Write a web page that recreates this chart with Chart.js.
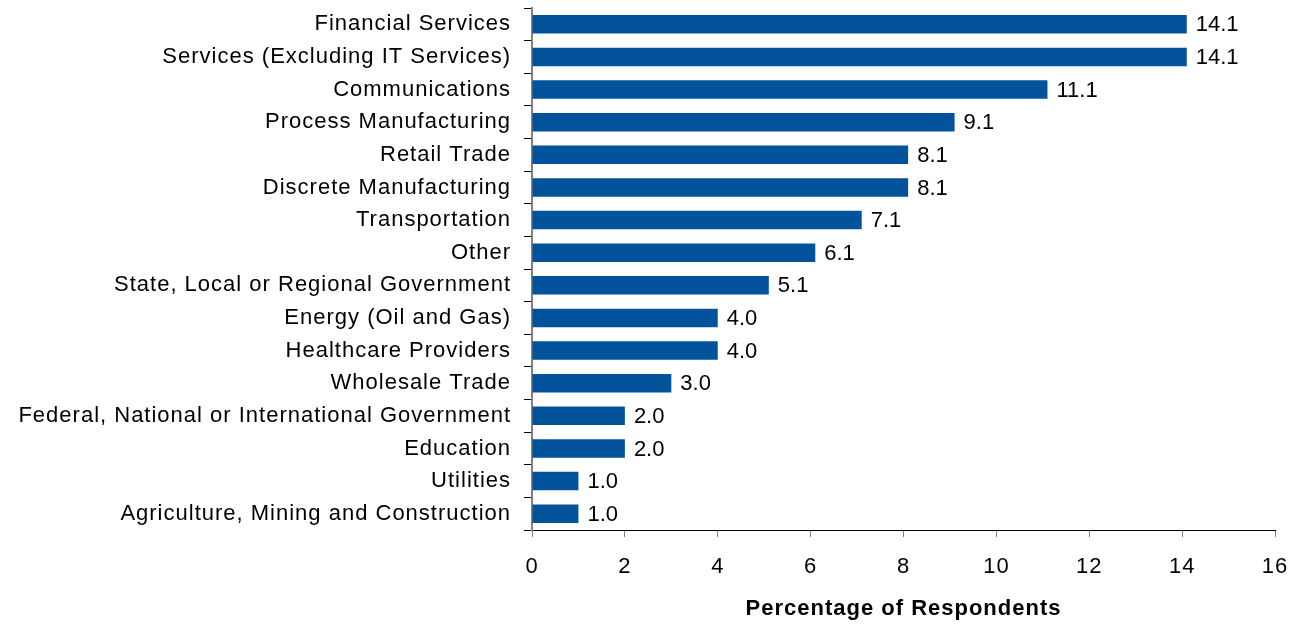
<!DOCTYPE html>
<html>
<head>
<meta charset="utf-8">
<script src="https://cdn.jsdelivr.net/npm/chart.js@4/dist/chart.umd.min.js"></script>
<style>
  html, body { margin: 0; padding: 0; background: #fff; }
  #wrap { width: 1293px; height: 626px; }
</style>
</head>
<body>
<div id="wrap"><canvas id="chart"></canvas></div>
<script>
// industries, top to bottom
const industries = [
    'Financial Services',
    'Services (Excluding IT Services)',
    'Communications',
    'Process Manufacturing',
    'Retail Trade',
    'Discrete Manufacturing',
    'Transportation',
    'Other',
    'State, Local or Regional Government',
    'Energy (Oil and Gas)',
    'Healthcare Providers',
    'Wholesale Trade',
    'Federal, National or International Government',
    'Education',
    'Utilities',
    'Agriculture, Mining and Construction'
];
const percentages = [14.1, 14.1, 11.1, 9.1, 8.1, 8.1, 7.1, 6.1, 5.1, 4.0, 4.0, 3.0, 2.0, 2.0, 1.0, 1.0];
const xTicks = [0, 2, 4, 6, 8, 10, 12, 14, 16];

const FONT = 'Arial, "Liberation Sans", sans-serif';

// slightly spaced-out lettering for the axis text
const spacing = {
    id: 'spacing',
    beforeLayout(chart) { chart.ctx.letterSpacing = '1px'; },
    beforeDraw(chart) { chart.ctx.letterSpacing = '1px'; }
};

// value labels at the end of each bar
const valueLabels = {
    id: 'valueLabels',
    afterDatasetsDraw(chart) {
        const ctx = chart.ctx;
        const meta = chart.getDatasetMeta(0);
        ctx.save();
        ctx.letterSpacing = '0px';
        ctx.font = '22px ' + FONT;
        ctx.fillStyle = '#000';
        ctx.textBaseline = 'middle';
        ctx.textAlign = 'left';
        meta.data.forEach((bar, i) => {
            ctx.fillText(percentages[i].toFixed(1), bar.x + 9, bar.y + 1);
        });
        ctx.restore();
    }
};

new Chart(document.getElementById('chart'), {
    type: 'bar',
    data: {
        labels: industries,
        datasets: [{
            data: percentages,
            backgroundColor: '#02539C',
            borderWidth: 0,
            barPercentage: 0.57,
            categoryPercentage: 1
        }]
    },
    options: {
        indexAxis: 'y',
        responsive: true,
        maintainAspectRatio: false,
        animation: false,
        layout: { padding: { top: 8, right: 18, left: 0, bottom: 0 } },
        plugins: {
            legend: { display: false },
            tooltip: { enabled: false }
        },
        scales: {
            x: {
                min: 0,
                max: 16,
                afterBuildTicks(axis) {
                    axis.ticks = xTicks.map(v => ({ value: v }));
                },
                afterFit(axis) {
                    axis.height = 96;
                    axis.paddingLeft = 0;
                    axis.paddingRight = 0;
                },
                border: { display: true, color: '#000', width: 1 },
                grid: {
                    drawOnChartArea: false,
                    drawTicks: true,
                    tickLength: 7,
                    color: '#808080'
                },
                ticks: {
                    color: '#000',
                    padding: 17,
                    font: { family: FONT, size: 22 }
                },
                title: {
                    display: true,
                    text: 'Percentage of Respondents',
                    color: '#000',
                    padding: { top: 10, bottom: 4 },
                    font: { family: FONT, size: 22, weight: 'bold' }
                }
            },
            y: {
                afterFit(axis) {
                    axis.width = 532;
                    axis.paddingTop = 0;
                    axis.paddingBottom = 0;
                },
                border: { display: true, color: '#808080', width: 2 },
                grid: {
                    drawOnChartArea: false,
                    drawTicks: true,
                    tickLength: 8,
                    offset: true,
                    color: '#000'
                },
                ticks: {
                    color: '#000',
                    padding: 13,
                    autoSkip: false,
                    font: { family: FONT, size: 22 }
                }
            }
        }
    },
    plugins: [spacing, valueLabels]
});
</script>
</body>
</html>
